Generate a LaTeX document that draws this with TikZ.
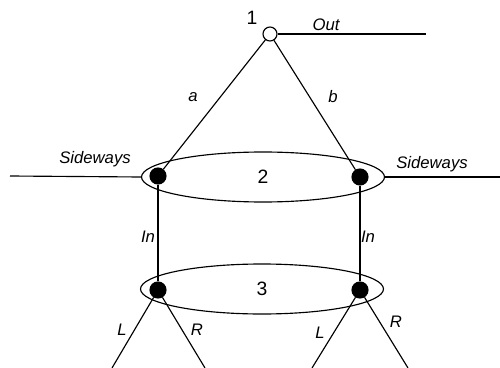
\documentclass[tikz,border=0pt]{standalone}
\usepackage{fontspec}
\setmainfont{Liberation Sans}
\usetikzlibrary{shapes.geometric}
\tikzset{
	dot/.style={draw,circle,fill=black,inner sep=0,minimum size=0.32cm},
	ring/.style={draw,ellipse,inner sep=0,minimum width=4.86cm,minimum height=1cm},
	lbl/.style={font=\fontsize{9.5}{11}\selectfont\itshape,inner sep=0},
	num/.style={font=\fontsize{11}{13}\selectfont,inner sep=0}
}
\begin{document}
\begin{tikzpicture}[x=0.02cm,y=-0.02cm,line width=0.65pt]
	\useasboundingbox (0,0) rectangle (500,368);
	% top vertex
	\node [draw,circle,fill=white,inner sep=0,minimum size=0.28cm] at (270,34) (n1) {};
	\node [num] at (252,18) (l1) {1};
	\coordinate (out) at (426,34);
	\draw (n1) -- (out);
	\node [lbl] at (326,25) (lout) {Out};

	% level 2
	\node [ring,num] at (263,177) (e2) {2};
	\node [dot] at (158,176) (d2l) {} edge (n1);
	\node [dot] at (360,177) (d2r) {} edge (n1);
	\node [lbl] at (193,97) (la) {a};
	\node [lbl] at (333,97) (lb) {b};
	\coordinate (sl) at (10,176);
	\coordinate (sr) at (500,177);
	\draw (sl) -- (e2.west);
	\draw (e2.east) -- (sr);
	\node [lbl] at (95,159) (lsl) {Sideways};
	\node [lbl] at (432,164) (lsr) {Sideways};

	% level 3
	\node [ring,num] at (262,289) (e3) {3};
	\node [dot] at (158,290) (d3l) {} edge (d2l);
	\node [dot] at (360,290) (d3r) {} edge (d2r);
	\node [lbl] at (148,237) (lin1) {In};
	\node [lbl] at (368,237) (lin2) {In};

	% branches
	\coordinate (b1) at (112,368);
	\coordinate (b2) at (205,368);
	\coordinate (b3) at (312,368);
	\coordinate (b4) at (408,368);
	\draw (d3l) -- (b1);
	\draw (d3l) -- (b2);
	\draw (d3r) -- (b3);
	\draw (d3r) -- (b4);
	\node [lbl] at (122,330) (lL1) {L};
	\node [lbl] at (197,330) (lR1) {R};
	\node [lbl] at (320,333) (lL2) {L};
	\node [lbl] at (396,322) (lR2) {R};
\end{tikzpicture}
\end{document}
